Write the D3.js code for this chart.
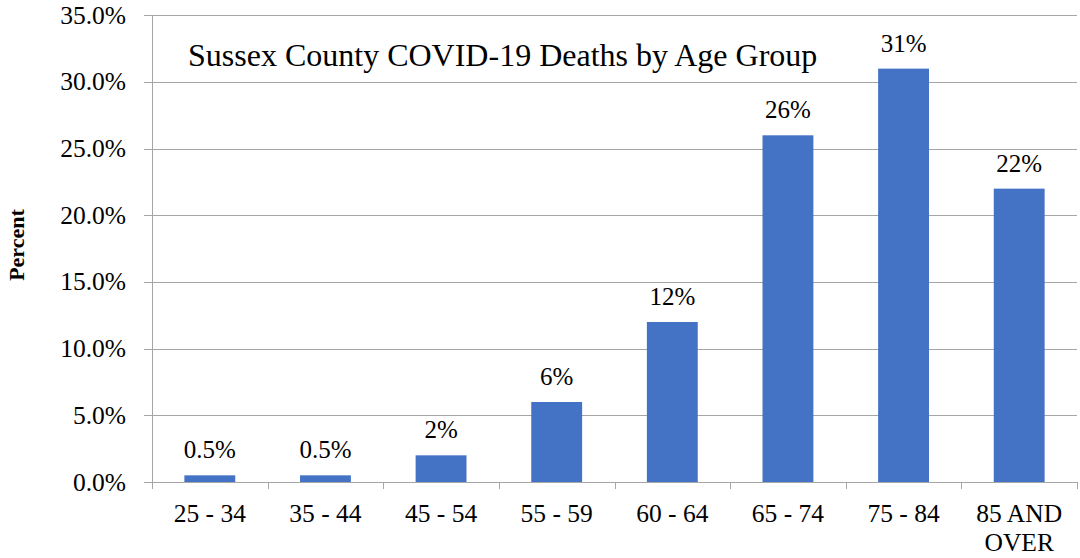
<!DOCTYPE html>
<html>
<head>
<meta charset="utf-8">
<script src="https://d3js.org/d3.v7.min.js"></script>
<style>
  body { margin: 0; background: #fff; }
  text { font-family: "Liberation Serif", "Times New Roman", serif; fill: #000; }
</style>
</head>
<body>
<script>
"use strict";

const ageGroups = ["25 - 34", "35 - 44", "45 - 54", "55 - 59", "60 - 64", "65 - 74", "75 - 84", "85 AND OVER"];
const percents = [0.5, 0.5, 2, 6, 12, 26, 31, 22];
const valueLabels = ["0.5%", "0.5%", "2%", "6%", "12%", "26%", "31%", "22%"];
const yTicks = [0, 5, 10, 15, 20, 25, 30, 35];

const m = { width: 1080, height: 558, left: 152, right: 1077, top: 15.3, bottom: 482 };

const svg = d3
  .select("body")
  .append("svg")
  .attr("width", m.width)
  .attr("height", m.height);

const x = d3.scaleBand()
  .domain(ageGroups)
  .range([m.left, m.right])
  .paddingInner(0.56)
  .paddingOuter(0.28);

const y = d3.scaleLinear()
  .domain([0, 35])
  .range([m.bottom, m.top]);

// gridlines + y ticks
svg.append("g")
  .selectAll("line")
  .data(yTicks)
  .enter()
  .append("line")
  .attr("x1", m.left - 8)
  .attr("x2", m.right)
  .attr("y1", d => Math.round(y(d)) + 0.5)
  .attr("y2", d => Math.round(y(d)) + 0.5)
  .attr("stroke", "#a6a6a6")
  .attr("stroke-width", 1);

svg.append("g")
  .selectAll("text")
  .data(yTicks)
  .enter()
  .append("text")
  .attr("x", 126)
  .attr("y", d => y(d) + 8.5)
  .attr("text-anchor", "end")
  .style("font-size", "25.5px")
  .text(d => d.toFixed(1) + "%");

// y axis line
svg.append("line")
  .attr("x1", m.left + 0.5)
  .attr("x2", m.left + 0.5)
  .attr("y1", m.top)
  .attr("y2", m.bottom)
  .attr("stroke", "#a6a6a6");

// bars
svg.append("g")
  .selectAll("rect")
  .data(percents)
  .enter()
  .append("rect")
  .attr("x", (d, i) => x(ageGroups[i]))
  .attr("y", d => y(d))
  .attr("width", x.bandwidth())
  .attr("height", d => y(0) - y(d))
  .attr("fill", "#4472c4");

// value labels
svg.append("g")
  .selectAll("text")
  .data(percents)
  .enter()
  .append("text")
  .attr("x", (d, i) => x(ageGroups[i]) + x.bandwidth() / 2)
  .attr("y", d => y(d) - 17)
  .attr("text-anchor", "middle")
  .style("font-size", "25px")
  .text((d, i) => valueLabels[i]);

// x ticks
const step = x.step();
const tickXs = d3.range(ageGroups.length + 1).map(i => m.left + i * step);
svg.append("g")
  .selectAll("line")
  .data(tickXs)
  .enter()
  .append("line")
  .attr("x1", d => Math.round(d) + 0.5)
  .attr("x2", d => Math.round(d) + 0.5)
  .attr("y1", m.bottom)
  .attr("y2", m.bottom + 7)
  .attr("stroke", "#a6a6a6");

// x labels
svg.append("g")
  .selectAll("text")
  .data(ageGroups)
  .enter()
  .append("text")
  .attr("x", d => x(d) + x.bandwidth() / 2)
  .attr("y", 522)
  .attr("text-anchor", "middle")
  .style("font-size", "25.5px")
  .each(function(d) {
    const parts = d === "85 AND OVER" ? ["85 AND", "OVER"] : [d];
    d3.select(this)
      .selectAll("tspan")
      .data(parts)
      .enter()
      .append("tspan")
      .attr("x", x(d) + x.bandwidth() / 2)
      .attr("dy", (p, j) => (j === 0 ? 0 : 29))
      .text(p => p);
  });

// title
svg.append("text")
  .attr("x", 188)
  .attr("y", 66)
  .style("font-size", "32px")
  .text("Sussex County COVID-19 Deaths by Age Group");

// axis title
svg.append("text")
  .attr("transform", "translate(24,245) rotate(-90)")
  .attr("text-anchor", "middle")
  .style("font-size", "22px")
  .style("font-weight", "bold")
  .text("Percent");
</script>
</body>
</html>
